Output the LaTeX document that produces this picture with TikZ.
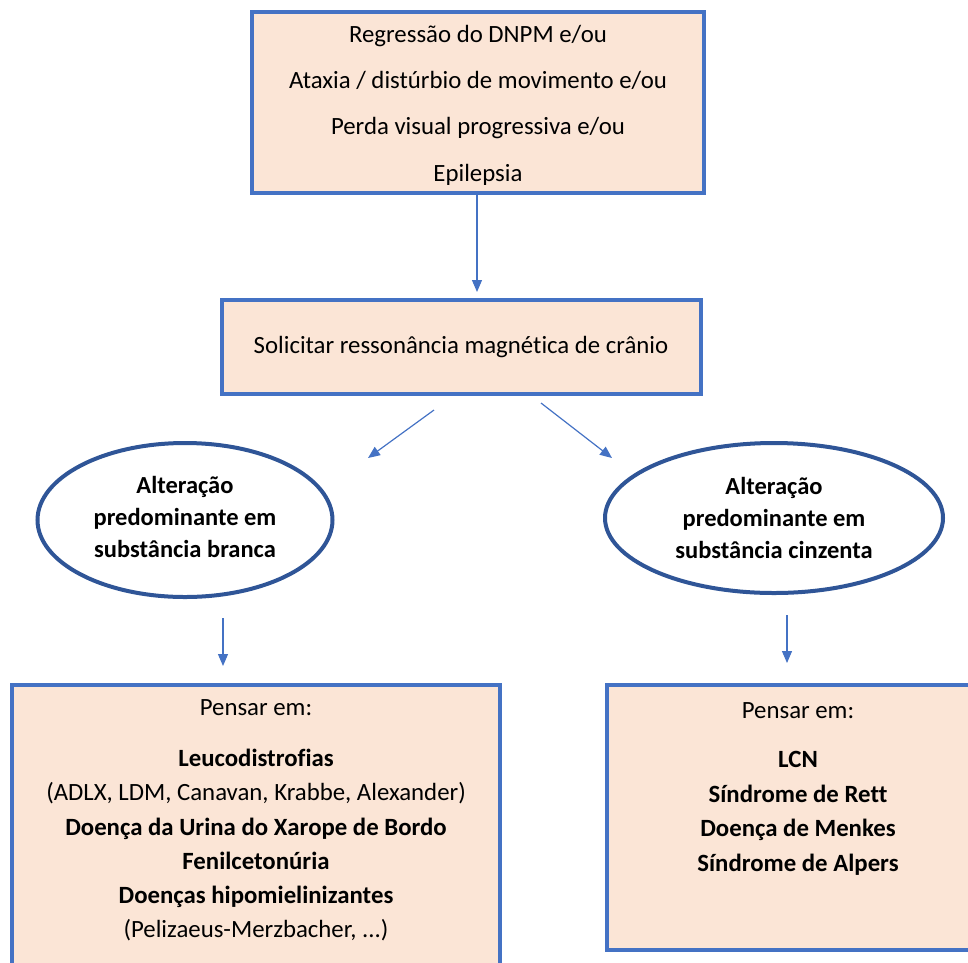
\documentclass[tikz,border=0pt]{standalone}
\usepackage{fontspec}
\setmainfont[Ligatures={NoCommon}]{Carlito}
\usetikzlibrary{arrows.meta,shapes.geometric,calc}
\definecolor{boxfill}{HTML}{FBE5D6}
\definecolor{boxline}{HTML}{4472C4}
\definecolor{ellline}{HTML}{2F5597}
\tikzset{
  pbox/.style={draw=boxline, fill=boxfill, line width=4pt, inner sep=0pt},
  oval/.style={draw=ellline, fill=white, line width=4pt, ellipse, inner sep=0pt, align=center, font=\fontsize{24.5}{32}\selectfont\bfseries},
  arr/.style={draw=boxline, line width=1.2pt, -{Triangle[length=12pt,width=10pt]}},
  txt/.style={align=center, inner sep=0pt}
}
\begin{document}
\begin{tikzpicture}[x=1pt,y=-1pt]
\useasboundingbox (0,0) rectangle (968,962);
\begin{scope}
\clip (0,0) rectangle (968,962);
% top box
\node[pbox, minimum width=452pt, minimum height=181pt] (top) at (478,102) {};
\node[txt, font=\fontsize{24.8}{46.3}\selectfont] (toptext) at (478,105)
  {Regressão do DNPM e/ou\\Ataxia / distúrbio de movimento e/ou\\Perda visual progressiva e/ou\\Epilepsia};
% MRI box
\node[pbox, minimum width=479pt, minimum height=94pt, txt, font=\fontsize{24.8}{28}\selectfont] (mri) at (461,347)
  {Solicitar ressonância magnética de crânio};
% ellipses
\node[oval, minimum width=295pt, minimum height=154pt] (wm) at (185,520) {};
\node[txt, font=\fontsize{24.5}{32}\selectfont\bfseries] (wmtext) at (185,517)
  {Alteração\\predominante em\\substância branca};
\node[oval, minimum width=338pt, minimum height=150pt] (gm) at (774,518)
  {Alteração\\predominante em\\substância cinzenta};
% bottom boxes
\node[pbox, anchor=north west, minimum width=488pt, minimum height=320pt] (lbox) at (10,683) {};
\node[txt, anchor=north, font=\fontsize{24.8}{34.3}\selectfont] (ltext) at ($(lbox.north)+(0,16)$)
  {Pensar em:\\[17pt]\textbf{Leucodistrofias}\\(ADLX, LDM, Canavan, Krabbe, Alexander)\\\textbf{Doença da Urina do Xarope de Bordo}\\\textbf{Fenilcetonúria}\\\textbf{Doenças hipomielinizantes}\\(Pelizaeus-Merzbacher, ...)};
\node[pbox, anchor=north west, minimum width=390pt, minimum height=265pt] (rbox) at (605,683) {};
\node[txt, anchor=north, font=\fontsize{24.8}{34.5}\selectfont] (rtext) at (798,702)
  {Pensar em:\\[15pt]\textbf{LCN}\\\textbf{Síndrome de Rett}\\\textbf{Doença de Menkes}\\\textbf{Síndrome de Alpers}};
% connectors
\coordinate (a1s) at (477,193);
\coordinate (a1e) at (477,292);
\coordinate (a2s) at (434,410);
\coordinate (a2e) at (368,458);
\coordinate (a3s) at (541,403);
\coordinate (a3e) at (612,458);
\coordinate (a4s) at (223,618);
\coordinate (a4e) at (223,666);
\coordinate (a5s) at (787,615);
\coordinate (a5e) at (787,663);
\draw[arr] (a1s) -- (a1e);
\draw[arr] (a2s) -- (a2e);
\draw[arr] (a3s) -- (a3e);
\draw[arr] (a4s) -- (a4e);
\draw[arr] (a5s) -- (a5e);
\end{scope}
\end{tikzpicture}
\end{document}
